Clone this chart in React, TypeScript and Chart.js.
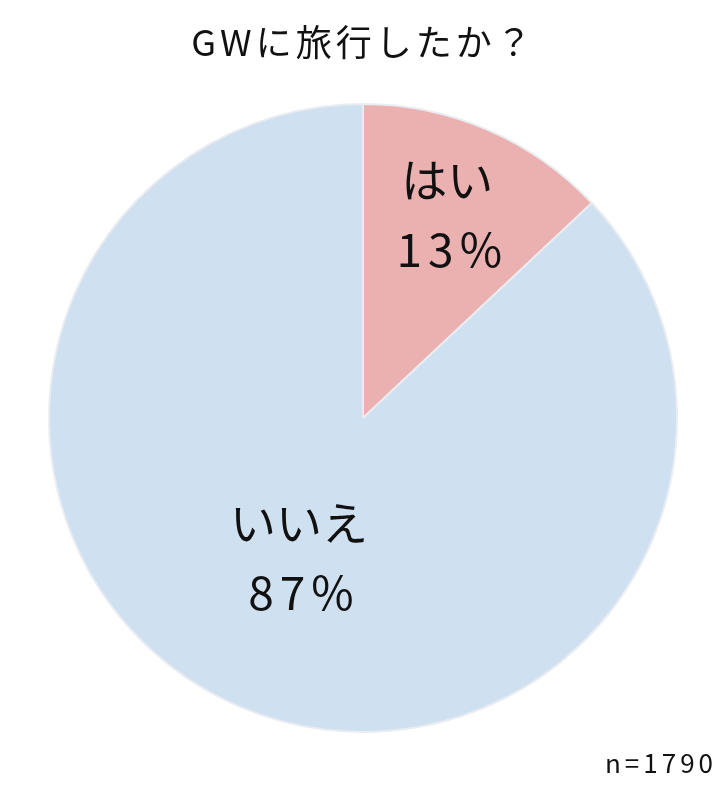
import React, { useEffect, useRef } from "react";
import { Chart, registerables } from "chart.js";

Chart.register(...registerables);

const titleText = "GWに旅行したか？";
const categories = ["はい", "いいえ"];
const values = [13, 87];
const percentLabels = ["13%", "87%"];
const sampleNote = "n=1790";
const sliceColors = ["#EBB1B1", "#CFE0F1"];

const FONT = '"Noto Sans CJK JP", "Noto Sans", sans-serif';

const textPlugin = {
  id: "pieText",
  afterDraw(chart: any) {
    const ctx = chart.ctx;
    const meta = chart.getDatasetMeta(0);
    const fractions = [0.7, 0.49];
    ctx.save();
    ctx.fillStyle = "#111111";
    ctx.textAlign = "center";
    ctx.textBaseline = "middle";
    meta.data.forEach((arc: any, i: number) => {
      const p = arc.getProps(["x", "y", "startAngle", "endAngle", "outerRadius"], true);
      const mid = (p.startAngle + p.endAngle) / 2;
      const r = p.outerRadius * fractions[i];
      const cx = p.x + Math.cos(mid) * r;
      const cy = p.y + Math.sin(mid) * r;
      ctx.font = `400 46px ${FONT}`;
      ctx.letterSpacing = "0px";
      ctx.fillText(categories[i], cx - 3, cy - 37);
      ctx.letterSpacing = "6px";
      ctx.fillText(percentLabels[i], cx + 2, cy + 33);
    });
    // title
    ctx.font = `400 36px ${FONT}`;
    ctx.letterSpacing = "4px";
    ctx.fillText(titleText, chart.width / 2 + 2, 42);
    // n note
    ctx.textAlign = "right";
    ctx.textBaseline = "alphabetic";
    ctx.font = `400 26px ${FONT}`;
    ctx.letterSpacing = "4px";
    ctx.fillText(sampleNote, 717, 773);
    ctx.restore();
  },
};

export default function App() {
  const ref = useRef<HTMLCanvasElement>(null);
  useEffect(() => {
    if (!ref.current) return;
    const chart = new Chart(ref.current, {
      type: "pie",
      data: {
        labels: categories,
        datasets: [
          {
            data: values,
            backgroundColor: sliceColors,
            borderColor: "#E9EDF2",
            borderWidth: 2,
          },
        ],
      },
      options: {
        animation: false,
        responsive: false,
        maintainAspectRatio: false,
        layout: { padding: { left: 48, right: 45, top: 103, bottom: 52 } },
        plugins: {
          legend: { display: false },
          tooltip: { enabled: false },
          title: { display: false },
        },
      },
      plugins: [textPlugin],
    });
    return () => chart.destroy();
  }, []);
  return (
    <div style={{ position: "absolute", left: 0, top: 0, width: 723, height: 785, background: "#fff" }}>
      <canvas ref={ref} width={723} height={785} style={{ width: 723, height: 785 }} />
    </div>
  );
}
